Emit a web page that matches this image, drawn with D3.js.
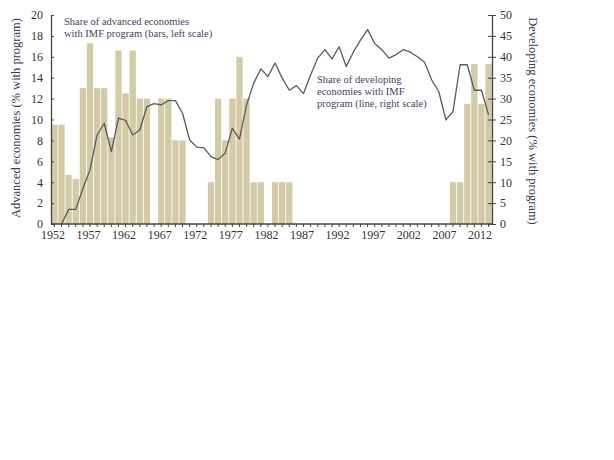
<!DOCTYPE html>
<html>
<head>
<meta charset="utf-8">
<script src="https://cdn.jsdelivr.net/npm/d3@7"></script>
<style>
  body { margin: 0; background: #fff; }
  text { font-family: "Liberation Serif", "DejaVu Serif", serif; }
</style>
</head>
<body>
<svg width="614" height="460"></svg>
<script>
// Years 1952-2013
var years = d3.range(1952, 2014);

// Share of advanced economies with IMF program (bars, left scale, %)
var advanced = [
    9.5, 9.5, 4.7, 4.3, 13.0, 17.3, 13.0, 13.0, 8.3, 16.6,   // 1952-1961
    12.5, 16.6, 12.0, 12.0, 0, 12.0, 12.0, 8.0, 8.0, 0,        // 1962-1971
    0, 0, 4.0, 12.0, 8.0, 12.0, 16.0, 12.0, 4.0, 4.0,          // 1972-1981
    0, 4.0, 4.0, 4.0, 0, 0, 0, 0, 0, 0,                        // 1982-1991
    0, 0, 0, 0, 0, 0, 0, 0, 0, 0,                              // 1992-2001
    0, 0, 0, 0, 0, 0, 4.0, 4.0, 11.5, 15.3,                    // 2002-2011
    11.5, 15.3                                                 // 2012-2013
];

// Share of developing economies with IMF program (line, right scale, %)
var developing = [
    null, 0, 3.5, 3.5, 8.5, 13.0, 21.3, 24.1, 17.3, 25.3,      // 1952-1961
    24.8, 21.3, 22.5, 28.1, 28.8, 28.5, 29.5, 29.5, 26.5, 20.1, // 1962-1971
    18.4, 18.2, 16.1, 15.4, 17.0, 22.9, 20.3, 28.5, 33.7, 37.1, // 1972-1981
    35.3, 38.5, 34.9, 32.0, 33.1, 31.2, 35.7, 39.7, 41.7, 39.5, // 1982-1991
    42.4, 37.7, 41.1, 44.0, 46.5, 43.2, 41.7, 39.7, 40.5, 41.7, // 1992-2001
    41.1, 40.0, 38.7, 34.5, 31.7, 24.9, 26.9, 38.1, 38.1, 32.0, // 2002-2011
    32.0, 26.1                                                  // 2012-2013
];

var leftTicks = d3.range(0, 21, 2);
var rightTicks = d3.range(0, 51, 5);

var svg = d3.select("svg");
svg.append("rect").attr("width", 614).attr("height", 460).attr("fill", "#fff");

var plotLeft = 51, plotRight = 492, plotTop = 15, plotBottom = 224;

var x = d3.scaleBand().domain(years).range([plotLeft, plotRight]).paddingInner(0.12).paddingOuter(0.04);
var yL = d3.scaleLinear().domain([0, 20]).range([plotBottom, plotTop]);
var yR = d3.scaleLinear().domain([0, 50]).range([plotBottom, plotTop]);

var axisColor = "#444";

// Bars
svg.append("g").selectAll("rect")
    .data(years.map(function(y, i) { return {year: y, v: advanced[i]}; }).filter(function(d) { return d.v > 0; }))
    .enter().append("rect")
    .attr("x", function(d) { return x(d.year); })
    .attr("y", function(d) { return yL(d.v); })
    .attr("width", x.bandwidth())
    .attr("height", function(d) { return plotBottom - yL(d.v); })
    .attr("fill", "#d3caa6");

// Line
var lineData = years.map(function(y, i) { return {year: y, v: developing[i]}; }).filter(function(d) { return d.v !== null; });
var line = d3.line()
    .x(function(d) { return x(d.year) + x.bandwidth() / 2; })
    .y(function(d) { return yR(d.v); });
svg.append("path")
    .datum(lineData)
    .attr("d", line)
    .attr("fill", "none")
    .attr("stroke", "#5a5a5a")
    .attr("stroke-width", 1.3)
    .attr("stroke-linejoin", "round");

// Left axis
var gL = svg.append("g")
    .attr("transform", "translate(" + plotLeft + ",0)")
    .call(d3.axisLeft(yL).tickValues(leftTicks).tickSizeInner(5).tickSizeOuter(0).tickPadding(3));
gL.selectAll(".tick line").attr("x2", 3);

// Right axis
var gR = svg.append("g")
    .attr("transform", "translate(" + plotRight + ",0)")
    .call(d3.axisRight(yR).tickValues(rightTicks).tickSizeInner(4).tickSizeOuter(0).tickPadding(4));
gR.selectAll(".tick line").attr("x1", -4);

// Bottom axis
var gB = svg.append("g")
    .attr("transform", "translate(0," + plotBottom + ")")
    .call(d3.axisBottom(x).tickValues(years).tickSizeInner(3).tickSizeOuter(0).tickPadding(3)
        .tickFormat(function(d) { return (d - 1952) % 5 === 0 ? d : ""; }));
gB.select(".domain").attr("d", "M" + plotLeft + ",0H" + plotRight);
gB.selectAll(".tick text").attr("dx", -1.5);

[gL, gR, gB].forEach(function(g) {
    g.selectAll(".domain").attr("stroke", axisColor).attr("stroke-width", 1.3);
    g.selectAll(".tick line").attr("stroke", axisColor);
    g.selectAll(".tick text").attr("fill", "#333").attr("font-size", 12)
        .attr("font-family", "'Liberation Serif', serif");
});

// Axis titles
svg.append("text")
    .attr("transform", "translate(20,118) rotate(-90)")
    .attr("text-anchor", "middle")
    .attr("font-size", 12.5)
    .attr("fill", "#3b3950")
    .text("Advanced economies (% with program)");

svg.append("text")
    .attr("transform", "translate(529,121) rotate(90)")
    .attr("text-anchor", "middle")
    .attr("font-size", 12.5)
    .attr("fill", "#3b3950")
    .text("Developing economies (% with program)");

// Annotations
var noteColor = "#46425e";
var note1 = svg.append("text").attr("font-size", 10.5).attr("fill", noteColor);
note1.append("tspan").attr("x", 64).attr("y", 25).text("Share of advanced economies");
note1.append("tspan").attr("x", 64).attr("y", 36.5).text("with IMF program (bars, left scale)");

var note2 = svg.append("text").attr("font-size", 10.5).attr("fill", noteColor);
note2.append("tspan").attr("x", 317).attr("y", 83).text("Share of developing");
note2.append("tspan").attr("x", 317).attr("y", 95).text("economies with IMF");
note2.append("tspan").attr("x", 317).attr("y", 107).text("program (line, right scale)");
</script>
</body>
</html>
